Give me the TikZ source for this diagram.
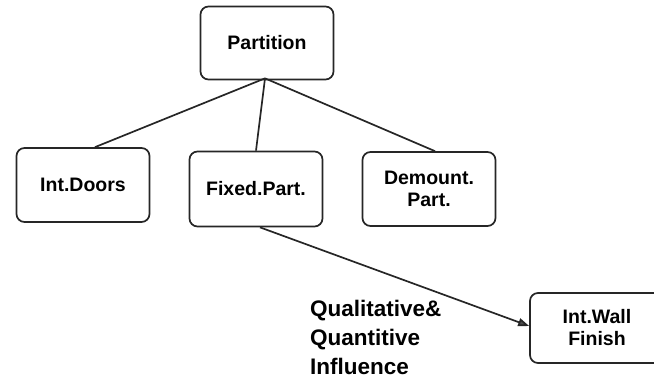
\documentclass[tikz,border=0pt]{standalone}
\usepackage{fontspec}
\setmainfont{Liberation Sans}
\usetikzlibrary{arrows.meta}
\begin{document}
\begin{tikzpicture}[x=1pt,y=-1pt,
  box/.style={draw=black!85, line width=1.7pt, rounded corners=8pt, fill=white,
    minimum width=133pt, align=center, inner sep=0pt,
    font=\fontsize{19.5}{22}\selectfont\bfseries},
  link/.style={draw=black!85, line width=1.7pt},
  flow/.style={link, -{Triangle[length=11pt,width=8pt,fill=black!70]}}]
  \useasboundingbox (0,0) rectangle (654,382);
  % hierarchy boxes
  \node[box, minimum height=73pt] (part) at (267,43) {Partition};
  \node[box, minimum height=74pt] (doors) at (83,185) {Int.Doors};
  \node[box, minimum height=75pt] (fixed) at (256,189) {Fixed.Part.};
  \node[box, minimum height=74pt] (demount) at (429,189) {Demount.\\Part.};
  \node[box, minimum height=70pt, minimum width=134pt] (wall) at (597,328) {Int.Wall\\Finish};
  % branches from one junction under the root
  \coordinate (apex) at ([xshift=-2pt,yshift=2pt]part.south);
  \draw[link] (apex) -- ([xshift=12pt]doors.north);
  \draw[link] (apex) -- (fixed.north);
  \draw[link] (apex) -- ([xshift=6pt]demount.north);
  % influence arrow
  \draw[flow] ([xshift=4pt]fixed.south) -- ([yshift=2pt]wall.west);
  \node[anchor=north west, align=left, inner sep=0pt,
    font=\fontsize{22.5}{29}\selectfont\bfseries] (infl) at (310,300)
    {Qualitative\&\\Quantitive\\Influence};
\end{tikzpicture}
\end{document}
